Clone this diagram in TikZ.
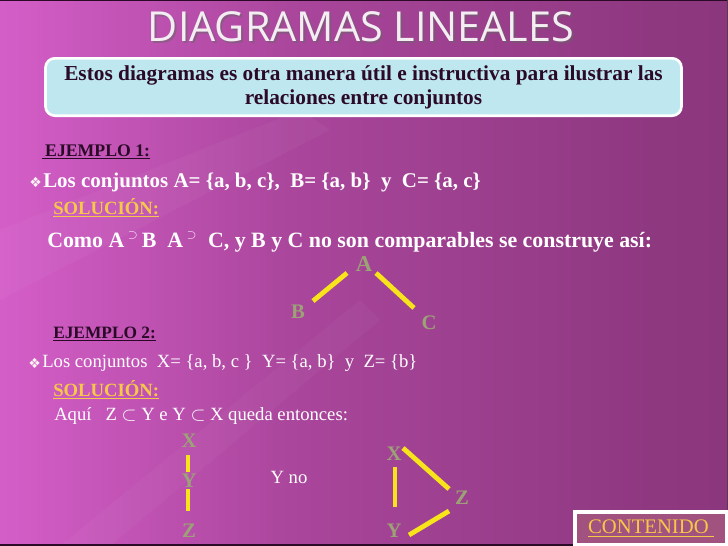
\documentclass[tikz,border=0pt]{standalone}
\usepackage{fontspec}
\setmainfont{Liberation Serif}
\newfontfamily\titlefont{Open Sans}
\newfontfamily\symfont{DejaVu Sans}
\usetikzlibrary{calc}
\definecolor{cbox}{HTML}{BFE7EF}
\definecolor{cdark}{HTML}{2A0A26}
\definecolor{cgold}{HTML}{F6C848}
\definecolor{cletter}{HTML}{9CA276}
\definecolor{cyel}{HTML}{F8E41A}
\definecolor{cinner}{HTML}{A2527E}
\definecolor{ctitle}{HTML}{F2EEF2}
\definecolor{bga}{HTML}{EE6CE0}
\definecolor{bgb}{HTML}{F672E6}
\definecolor{bgc}{HTML}{D45EC8}
\definecolor{bgd}{HTML}{AA469C}
\definecolor{bge}{HTML}{8E3880}
\definecolor{bgf}{HTML}{7C2E6C}
\pgfdeclarehorizontalshading{bgshade}{100bp}{color(0bp)=(bga);
  color(10bp)=(bgb); color(25bp)=(bgc); color(45bp)=(bgd);
  color(70bp)=(bge); color(100bp)=(bgf)}
\tikzset{
  body/.style={font=\bfseries\fontsize{15.7}{17}\selectfont, text=white, inner sep=0pt, anchor=west},
  plain/.style={font=\fontsize{14}{16}\selectfont, text=white, inner sep=0pt, anchor=west},
  ejemplo/.style={font=\bfseries\fontsize{13.3}{15}\selectfont, text=cdark, inner sep=0pt, anchor=west},
  solucion/.style={font=\bfseries\fontsize{14}{15}\selectfont, text=cgold, inner sep=0pt, anchor=west},
  letter/.style={font=\bfseries\fontsize{15.5}{17}\selectfont, text=cletter, inner sep=0pt},
  link/.style={draw=cyel, line width=3.6pt},
  bullet/.style={font=\symfont\fontsize{10.5}{11}\selectfont, text=white!80!pink, inner sep=0pt, anchor=west}
}
\begin{document}
\begin{tikzpicture}[x=0.75pt,y=-0.75pt]
\useasboundingbox (0,0) rectangle (728,546);
\shade[shading=bgshade] (0,0) rectangle (728,546);
% faint diagonal streaks
\fill[white, opacity=0.035] (0,230) -- (300,110) -- (330,130) -- (0,300) -- cycle;
\fill[white, opacity=0.03] (60,546) -- (360,300) -- (380,320) -- (110,546) -- cycle;
\draw[cdark, line width=1.5pt] (0,545) -- (728,545);
\draw[cdark, line width=1pt] (0,0.5) -- (728,0.5);
\draw[cdark!80, line width=1pt] (727.5,0) -- (727.5,546);

% title
\node[font=\titlefont\fontsize{31}{32}\selectfont, text=black!60, opacity=0.5, inner sep=0pt] at (363,29) {DIAGRAMAS LINEALES};
\node (title) [font=\titlefont\fontsize{31}{32}\selectfont, text=ctitle, inner sep=0pt] at (361,27) {DIAGRAMAS LINEALES};

% intro box
\node (intro) [draw=white, line width=2pt, fill=cbox, rounded corners=7pt,
  minimum width=477pt, minimum height=43pt, align=center, inner sep=0pt,
  font=\bfseries\fontsize{16}{18}\selectfont, text=cdark] at (363.5,87)
  {Estos diagramas es otra manera útil e instructiva para ilustrar las\\relaciones entre conjuntos};

% ejemplo 1
\node (ej1) [ejemplo] at (42,152) {\underline{\,EJEMPLO 1:}};
\node (b1) [bullet] at (29,182) {❖};
\node (l1) [body] at (43,182) {Los conjuntos A= \{a, b, c\},\ \ B= \{a, b\}\ \ y\ \ C= \{a, c\}};
\node (s1) [solucion] at (53,208) {\underline{SOLUCIÓN:}};
\node (como) [body, font=\bfseries\fontsize{16.4}{18}\selectfont] at (47,242) {Como A\,\textsuperscript{\fontsize{9}{10}\selectfont$\supset$}\,B\ \ A\,\textsuperscript{\fontsize{9}{10}\selectfont$\supset$}\ \ C, y B y C no son comparables se construye así:};

% diagram 1
\node (A) [letter, font=\bfseries\fontsize{17}{18}\selectfont] at (364,264) {A};
\node (B) [letter] at (298,312) {B};
\node (C) [letter] at (429,323) {C};
\draw[link] ($(A)+(-17,9)$) -- ($(B)+(15,-11)$);
\draw[link] ($(A)+(12,9)$) -- ($(C)+(-15,-15)$);

% ejemplo 2
\node (ej2) [ejemplo, font=\bfseries\fontsize{13}{15}\selectfont] at (53,334) {\underline{EJEMPLO 2:}};
\node (b2) [bullet] at (28,363) {❖};
\node (l2) [plain] at (42,363) {Los conjuntos\ \ X= \{a, b, c \}\ \ Y= \{a, b\}\ \ y\ \ Z= \{b\}};
\node (s2) [solucion] at (53,390) {\underline{SOLUCIÓN:}};
\node (aqui) [plain] at (54,416) {Aquí\ \ \ Z $\subset$ Y e Y $\subset$ X queda entonces:};

% diagram 2 left
\node (X1) [letter] at (189,441) {X};
\node (Y1) [letter] at (189,481) {Y};
\node (Z1) [letter] at (189,531) {Z};
\draw[link] ($(X1)+(-1,14)$) -- ($(Y1)+(-1,-9)$);
\draw[link] ($(Y1)+(-1,8)$) -- ($(Z1)+(-1,-20)$);
\node (yno) [plain, anchor=center] at (289,477) {Y no};

% diagram 2 right
\node (X2) [letter] at (394,454) {X};
\node (Z2) [letter] at (462,498) {Z};
\node (Y2) [letter] at (394,531) {Y};
\draw[link] ($(X2)+(9,-6)$) -- ($(Z2)+(-13,-9)$);
\draw[link] ($(X2)+(1,13)$) -- ($(Y2)+(1,-24)$);
\draw[link] ($(Y2)+(15,4)$) -- ($(Z2)+(-13,13)$);

% contenido
\fill[white] (573,510) rectangle (728,546);
\node (cont) [fill=cinner, minimum width=111pt, minimum height=22pt, inner sep=0pt,
  font=\fontsize{15.5}{16}\selectfont, text=cgold] at (651,528.5) {\underline{CONTENIDO\ }};
\end{tikzpicture}
\end{document}
